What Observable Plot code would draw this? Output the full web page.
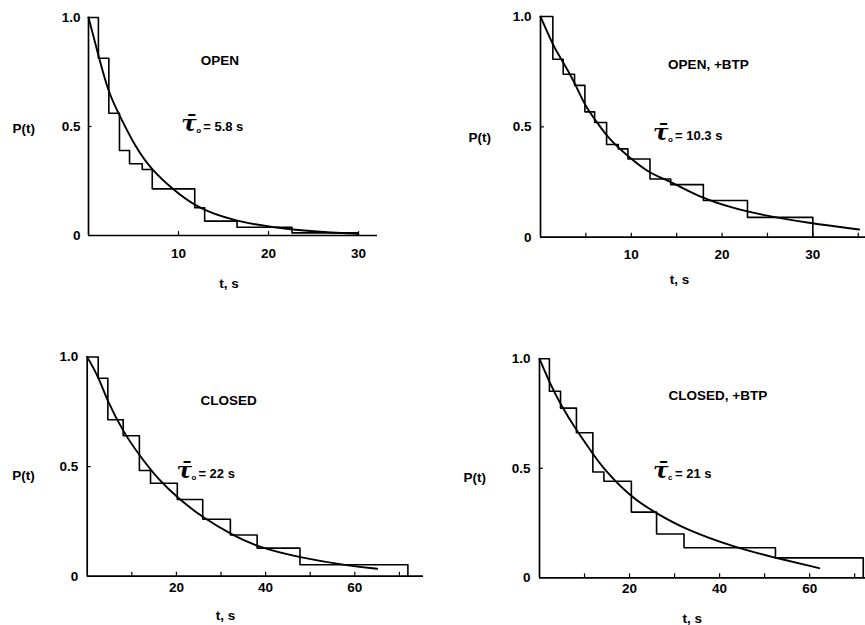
<!DOCTYPE html>
<html>
<head>
<meta charset="utf-8">
<script src="https://cdn.jsdelivr.net/npm/d3@7"></script>
<script src="https://cdn.jsdelivr.net/npm/@observablehq/plot@0.6"></script>
<style>
  html, body { margin: 0; padding: 0; background: #fff; }
  #chart { position: relative; width: 865px; height: 625px; overflow: hidden; background: #fff; }
  #chart svg { position: absolute; }
</style>
</head>
<body>
<div id="chart"></div>
<script>
// ---------- data ----------
// Histogram step edges (t, s) and step heights P(t)
const openEdges      = [0, 1.1, 2.26, 3.44, 4.56, 5.97, 7.08, 11.8, 12.9, 16.5, 22.6, 29.9];
const openHeights    = [1.0, 0.813, 0.561, 0.39, 0.329, 0.303, 0.214, 0.127, 0.066, 0.038, 0.012];
const openCurveT     = [0, 1.15, 2.26, 3.37, 5.2, 7.08, 9.3, 11.9, 16, 22.6, 29.9];
const openCurveP     = [1.0, 0.818, 0.65, 0.558, 0.405, 0.298, 0.214, 0.13, 0.066, 0.023, 0.008];

const openBtpEdges   = [0, 1.36, 2.5, 3.75, 4.89, 5.96, 7.28, 8.57, 9.63, 12.06, 14.34, 17.94, 22.8, 30.0];
const openBtpHeights = [1.0, 0.806, 0.738, 0.688, 0.568, 0.52, 0.42, 0.40, 0.354, 0.264, 0.238, 0.166, 0.09];
const openBtpCurveT  = [0, 1.47, 2.39, 3.67, 4.96, 6.25, 7.35, 9.74, 12.1, 14.15, 17.8, 22.6, 29.95, 35.1];
const openBtpCurveP  = [1.0, 0.861, 0.80, 0.71, 0.589, 0.521, 0.453, 0.362, 0.287, 0.257, 0.174, 0.113, 0.061, 0.035];

const closedEdges    = [0, 2.47, 4.63, 8.07, 11.7, 14.2, 20.2, 25.9, 32.1, 38.1, 47.7, 71.9];
const closedHeights  = [1.0, 0.903, 0.714, 0.641, 0.482, 0.424, 0.35, 0.26, 0.188, 0.128, 0.052];
const closedCurveT   = [0, 2.6, 4.5, 8.1, 12, 16, 20.5, 26, 32.5, 38.3, 47.8, 59, 65];
const closedCurveP   = [1.0, 0.907, 0.80, 0.657, 0.543, 0.44, 0.353, 0.266, 0.189, 0.132, 0.084, 0.046, 0.034];

const closedBtpEdges   = [0, 2.2, 4.67, 8.2, 11.85, 14.3, 20.4, 26, 32.1, 52.4, 71.9];
const closedBtpHeights = [1.0, 0.852, 0.775, 0.662, 0.483, 0.441, 0.30, 0.20, 0.137, 0.091];
const closedBtpCurveT  = [0, 2.2, 4.7, 8.2, 11.9, 13.6, 20.2, 26.2, 32.1, 43.2, 52.4, 62.1];
const closedBtpCurveP  = [1.0, 0.893, 0.79, 0.673, 0.566, 0.513, 0.368, 0.292, 0.224, 0.14, 0.091, 0.044];

// Panel texts
const panelTitles = ["OPEN", "OPEN, +BTP", "CLOSED", "CLOSED, +BTP"];
const tauSubs     = ["o", "o", "o", "c"];
const tauValues   = ["= 5.8 s", "= 10.3 s", "= 22 s", "= 21 s"];
const yTickValues = [0, 0.5, 1];
const yTickLabels = ["0", "0.5", "1.0"];
const xTickLabelsTop    = [10, 20, 30];
const xTickLabelsBottom = [20, 40, 60];
const xTickMarksTopLeft  = [10, 20, 30];
const xTickMarksTopRight = [5, 10, 15, 20, 25, 30, 35];
const xTickMarksBottom   = [10, 20, 30, 40, 50, 60, 70];
const yLabel = "P(t)";
const xLabel = "t, s";

// ---------- layout / options per panel ----------
const FONT = "'Liberation Sans', Arial, sans-serif";
const panels = [
  { edges: openEdges, heights: openHeights, ct: openCurveT, cp: openCurveP,
    box: {left: 0, top: 0, width: 432, height: 305}, m: {l: 88, r: 55, t: 17, b: 70},
    xmax: 32.1, xLabels: xTickLabelsTop, xMarks: xTickMarksTopLeft, xLabDy: 18, yLabDx: -8,
    title: {t: 14.6, p: 0.80}, tau: {t: 10.3, p: 0.50}, ylab: {dx: -76, p: 0.49}, xlab: {t: 15.6, dy: 48} },
  { edges: openBtpEdges, heights: openBtpHeights, ct: openBtpCurveT, cp: openBtpCurveP,
    box: {left: 432, top: 0, width: 433, height: 305}, m: {l: 108, r: 0, t: 16, b: 68.3},
    xmax: 35.8, xLabels: xTickLabelsTop, xMarks: xTickMarksTopRight, xLabDy: 17, yLabDx: -9,
    title: {t: 18.5, p: 0.78}, tau: {t: 12.4, p: 0.46}, ylab: {dx: -72, p: 0.453}, xlab: {t: 15.3, dy: 42} },
  { edges: closedEdges, heights: closedHeights, ct: closedCurveT, cp: closedCurveP,
    box: {left: 0, top: 305, width: 432, height: 320}, m: {l: 86.7, r: 9, t: 51.5, b: 49.3},
    xmax: 75.4, xLabels: xTickLabelsBottom, xMarks: xTickMarksBottom, xLabDy: 11, yLabDx: -9,
    title: {t: 31.7, p: 0.80}, tau: {t: 20.0, p: 0.467}, ylab: {dx: -75, p: 0.459}, xlab: {t: 31, dy: 39.5} },
  { edges: closedBtpEdges, heights: closedBtpHeights, ct: closedBtpCurveT, cp: closedBtpCurveP,
    box: {left: 432, top: 305, width: 433, height: 320}, m: {l: 107, r: 0, t: 53.3, b: 47.7},
    xmax: 72.4, xLabels: xTickLabelsBottom, xMarks: xTickMarksBottom, xLabDy: 11, yLabDx: -9,
    title: {t: 39.6, p: 0.832}, tau: {t: 25.2, p: 0.475}, ylab: {dx: -76, p: 0.459}, xlab: {t: 33.9, dy: 40.5} }
];

function stepPoints(edges, heights) {
  const pts = [];
  heights.forEach((h, i) => {
    pts.push({t: edges[i], p: h});
    pts.push({t: edges[i + 1], p: h});
  });
  pts.push({t: edges[edges.length - 1], p: 0});
  return pts;
}

const chart = document.getElementById("chart");

panels.forEach((P, i) => {
  const steps = stepPoints(P.edges, P.heights);
  const curve = P.ct.map((t, k) => ({t, p: P.cp[k]}));
  const tickLen = 0.018;
  const svg = Plot.plot({
    width: P.box.width,
    height: P.box.height,
    marginLeft: P.m.l, marginRight: P.m.r, marginTop: P.m.t, marginBottom: P.m.b,
    x: {domain: [0, P.xmax], axis: null},
    y: {domain: [0, 1], axis: null},
    style: {fontFamily: FONT, overflow: "visible", background: "transparent", color: "#000"},
    marks: [
      // axes lines
      Plot.ruleY([0], {y: d => d, stroke: "#000", strokeWidth: 1.7}),
      Plot.ruleX([{x: 0, y1: 0, y2: 1}], {x: "x", y1: "y1", y2: "y2", stroke: "#000", strokeWidth: 1.7}),
      // tick marks
      Plot.ruleX(P.xMarks.map(v => ({x: v, y1: 0, y2: tickLen})), {x: "x", y1: "y1", y2: "y2", stroke: "#000", strokeWidth: 1.2}),
      Plot.ruleY([{y: 0.5, x1: 0, x2: P.xmax * 0.012}], {y: "y", x1: "x1", x2: "x2", stroke: "#000", strokeWidth: 1.2}),
      // tick labels
      Plot.text(P.xLabels, {x: d => d, y: () => 0, dy: P.xLabDy, text: d => String(d),
        fontSize: 13.5, fontWeight: "bold", textAnchor: "middle", lineAnchor: "middle"}),
      Plot.text(yTickValues, {y: d => d, frameAnchor: "left", dx: P.yLabDx, text: (d, k) => yTickLabels[k],
        fontSize: 13.5, fontWeight: "bold", textAnchor: "end", lineAnchor: "middle"}),
      // histogram steps
      Plot.line(steps, {x: "t", y: "p", curve: "linear", stroke: "#000", strokeWidth: 1.6}),
      // fitted curve
      Plot.line(curve, {x: "t", y: "p", curve: "basis", stroke: "#000", strokeWidth: 1.9}),
      // panel title
      Plot.text([panelTitles[i]], {x: () => P.title.t, y: () => P.title.p, text: d => d,
        fontSize: 13.5, fontWeight: "bold", textAnchor: "middle", lineAnchor: "middle"}),
      // tau label: τ̄, subscript, value
      Plot.text(["\u03C4\u0304"], {x: () => P.tau.t, y: () => P.tau.p, text: d => d, dy: -3,
        fontFamily: "'DejaVu Serif', serif", fontSize: 23, fontWeight: "bold", fontStyle: "italic",
        textAnchor: "start", lineAnchor: "middle"}),
      Plot.text([tauSubs[i]], {x: () => P.tau.t, y: () => P.tau.p, text: d => d, dx: 15, dy: 4,
        fontSize: 8, fontWeight: "bold", textAnchor: "start", lineAnchor: "middle"}),
      Plot.text([tauValues[i]], {x: () => P.tau.t, y: () => P.tau.p, text: d => d, dx: 22,
        fontSize: 13, fontWeight: "bold", textAnchor: "start", lineAnchor: "middle"}),
      // axis labels
      Plot.text([yLabel], {frameAnchor: "left", y: () => P.ylab.p, dx: P.ylab.dx, text: d => d,
        fontSize: 13.5, fontWeight: "bold", textAnchor: "start", lineAnchor: "middle"}),
      Plot.text([xLabel], {x: () => P.xlab.t, y: () => 0, dy: P.xlab.dy, text: d => d,
        fontSize: 13.5, fontWeight: "bold", textAnchor: "middle", lineAnchor: "middle"})
    ]
  });
  svg.style.left = P.box.left + "px";
  svg.style.top = P.box.top + "px";
  chart.appendChild(svg);
});
</script>
</body>
</html>
